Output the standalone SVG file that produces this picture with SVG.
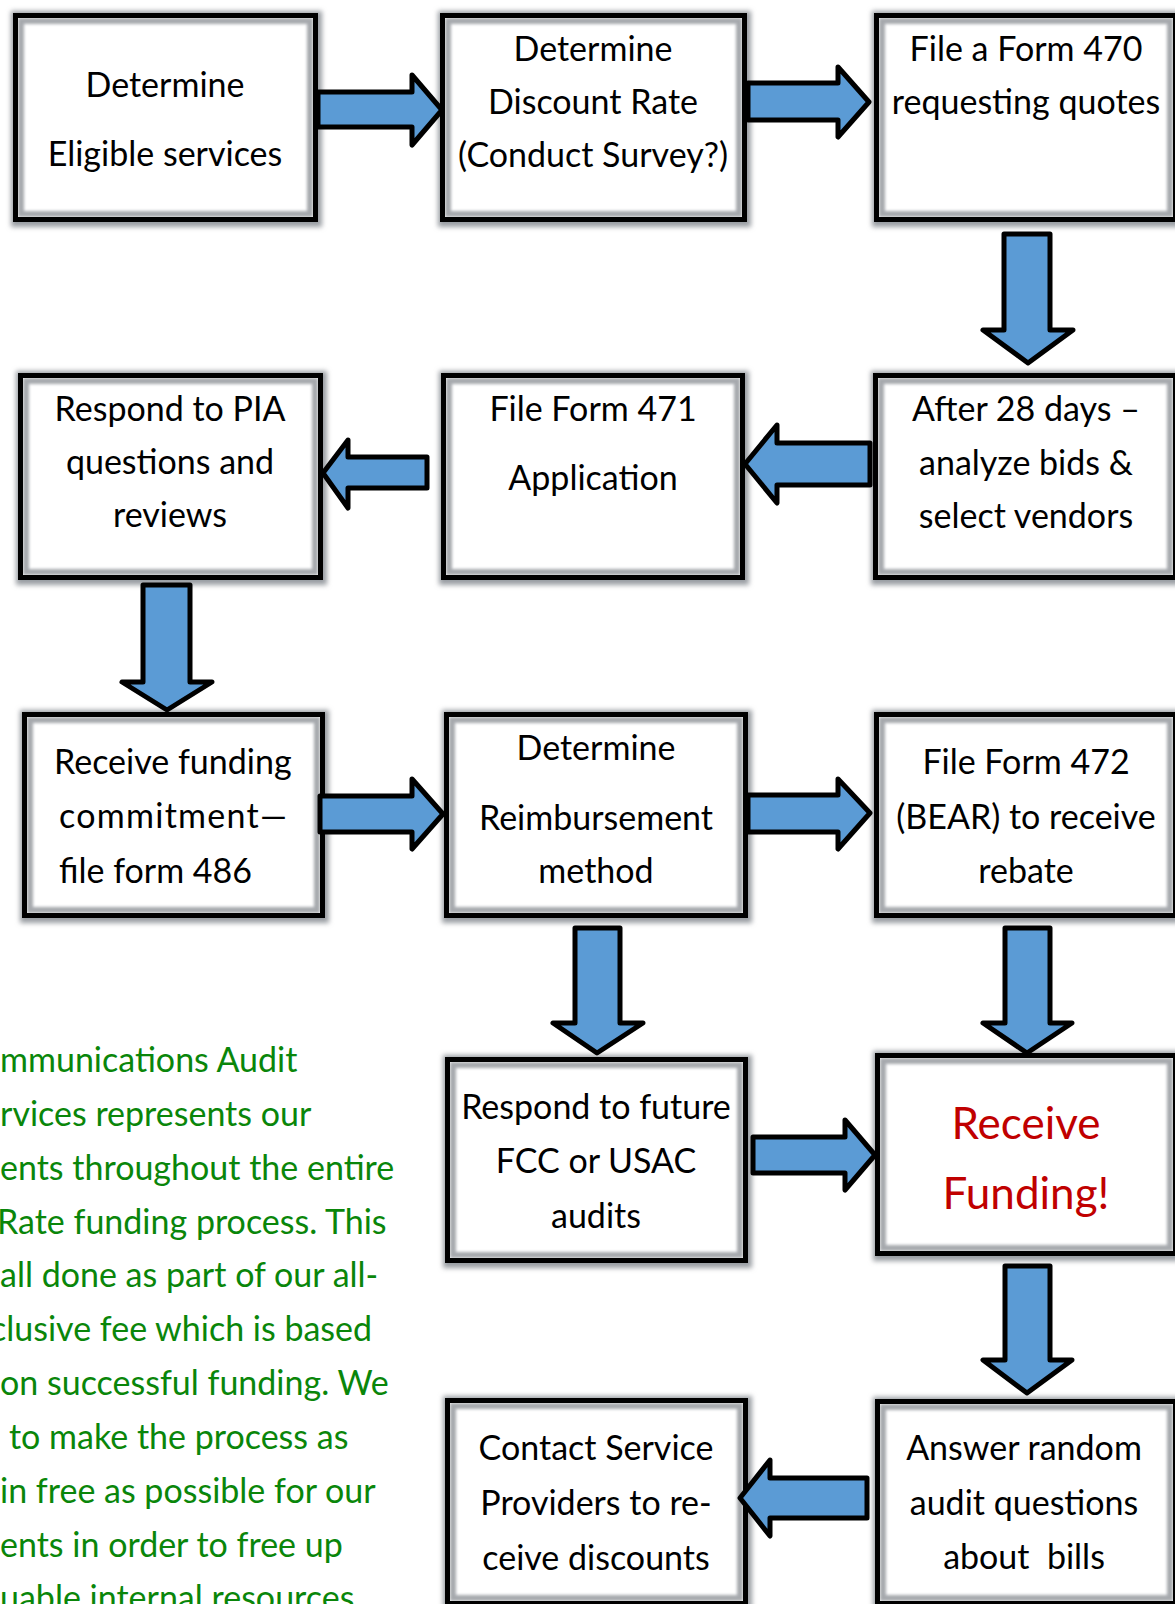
<svg xmlns="http://www.w3.org/2000/svg" width="1175" height="1604" viewBox="0 0 1175 1604">
<defs>
<filter id="blurS" x="-10%" y="-10%" width="120%" height="120%"><feGaussianBlur stdDeviation="2.5"/></filter>
<filter id="blurI" x="-10%" y="-10%" width="120%" height="120%"><feGaussianBlur stdDeviation="1.4"/></filter>
<style>
.sh{fill:#9a9ea3;filter:url(#blurS)}
.bg{fill:#ffffff}
.band{fill:none;stroke:#a6a9ad;stroke-width:6;filter:url(#blurI)}
.bd{fill:none;stroke:#000;stroke-width:5}
.t{font-family:Lato,"Open Sans",sans-serif;font-size:34px;fill:#000;text-anchor:middle}
.ts{text-anchor:start}
.red{fill:#c00000;font-size:44px}
.g{font-family:Lato,"Open Sans",sans-serif;font-size:34px;fill:#0a860a}
.ar{fill:#5b9bd5;stroke:#000;stroke-width:5;stroke-linejoin:round}
</style>
</defs>
<rect width="1175" height="1604" fill="#fff"/>

<g id="n1"><rect class="sh" x="11" y="11" width="311" height="216"/><rect class="bg" x="13" y="13" width="305" height="209"/><rect class="band" x="21" y="21" width="289" height="193"/><rect class="bd" x="15.5" y="15.5" width="300" height="204"/>
<text class="t" x="165" y="97">Determine</text><text class="t" x="165" y="166">Eligible services</text></g>

<g id="n2"><rect class="sh" x="438" y="11" width="313" height="216"/><rect class="bg" x="440" y="13" width="307" height="209"/><rect class="band" x="448" y="21" width="291" height="193"/><rect class="bd" x="442.5" y="15.5" width="302" height="204"/>
<text class="t" x="593" y="61">Determine</text><text class="t" x="593" y="114">Discount Rate</text><text class="t" x="593" y="167">(Conduct Survey?)</text></g>

<g id="n3"><rect class="sh" x="872" y="11" width="310" height="216"/><rect class="bg" x="874" y="13" width="304" height="209"/><rect class="band" x="882" y="21" width="288" height="193"/><rect class="bd" x="876.5" y="15.5" width="299" height="204"/>
<text class="t" x="1026" y="61">File a Form 470</text><text class="t" x="1026" y="114">requesting quotes</text></g>

<g id="n4"><rect class="sh" x="871" y="371" width="311" height="214"/><rect class="bg" x="873" y="373" width="305" height="207"/><rect class="band" x="881" y="381" width="289" height="191"/><rect class="bd" x="875.5" y="375.5" width="300" height="202"/>
<text class="t" x="1026" y="421">After 28 days –</text><text class="t" x="1026" y="475">analyze bids &amp;</text><text class="t" x="1026" y="528">select vendors</text></g>

<g id="n5"><rect class="sh" x="439" y="371" width="310" height="214"/><rect class="bg" x="441" y="373" width="304" height="207"/><rect class="band" x="449" y="381" width="288" height="191"/><rect class="bd" x="443.5" y="375.5" width="299" height="202"/>
<text class="t" x="593" y="421">File Form 471</text><text class="t" x="593" y="490">Application</text></g>

<g id="n6"><rect class="sh" x="16" y="371" width="311" height="214"/><rect class="bg" x="18" y="373" width="305" height="207"/><rect class="band" x="26" y="381" width="289" height="191"/><rect class="bd" x="20.5" y="375.5" width="300" height="202"/>
<text class="t" x="170" y="421">Respond to PIA</text><text class="t" x="170" y="474">questions and</text><text class="t" x="170" y="527">reviews</text></g>

<g id="n7"><rect class="sh" x="20" y="710" width="309" height="213"/><rect class="bg" x="22" y="712" width="303" height="206"/><rect class="band" x="30" y="720" width="287" height="190"/><rect class="bd" x="24.5" y="714.5" width="298" height="201"/>
<text class="t ts" x="54" y="774">Receive funding</text><text class="t ts" x="59" y="828" textLength="228" lengthAdjust="spacing">commitment—</text><text class="t ts" x="59" y="883">file form 486</text></g>

<g id="n8"><rect class="sh" x="442" y="710" width="310" height="213"/><rect class="bg" x="444" y="712" width="304" height="206"/><rect class="band" x="452" y="720" width="288" height="190"/><rect class="bd" x="446.5" y="714.5" width="299" height="201"/>
<text class="t" x="596" y="760">Determine</text><text class="t" x="596" y="830">Reimbursement</text><text class="t" x="596" y="883">method</text></g>

<g id="n9"><rect class="sh" x="872" y="710" width="310" height="213"/><rect class="bg" x="874" y="712" width="304" height="206"/><rect class="band" x="882" y="720" width="288" height="190"/><rect class="bd" x="876.5" y="714.5" width="299" height="201"/>
<text class="t" x="1026" y="774">File Form 472</text><text class="t" x="1026" y="829">(BEAR) to receive</text><text class="t" x="1026" y="883">rebate</text></g>

<g id="n10"><rect class="sh" x="443" y="1055" width="309" height="213"/><rect class="bg" x="445" y="1057" width="303" height="206"/><rect class="band" x="453" y="1065" width="287" height="190"/><rect class="bd" x="447.5" y="1059.5" width="298" height="201"/>
<text class="t" x="596" y="1119">Respond to future</text><text class="t" x="596" y="1173">FCC or USAC</text><text class="t" x="596" y="1228">audits</text></g>

<g id="n11"><rect class="sh" x="873" y="1051" width="309" height="210"/><rect class="bg" x="875" y="1053" width="303" height="203"/><rect class="band" x="883" y="1061" width="287" height="187"/><rect class="bd" x="877.5" y="1055.5" width="298" height="198"/>
<text class="t red" x="1026" y="1139">Receive</text><text class="t red" x="1026" y="1209">Funding!</text></g>

<g id="n12"><rect class="sh" x="873" y="1397" width="309" height="214"/><rect class="bg" x="875" y="1399" width="303" height="207"/><rect class="band" x="883" y="1407" width="287" height="191"/><rect class="bd" x="877.5" y="1401.5" width="298" height="202"/>
<text class="t" x="1024" y="1460">Answer random</text><text class="t" x="1024" y="1515">audit questions</text><text class="t" x="1024" y="1569" style="white-space:pre">about  bills</text></g>

<g id="n13"><rect class="sh" x="443" y="1396" width="309" height="215"/><rect class="bg" x="445" y="1398" width="303" height="208"/><rect class="band" x="453" y="1406" width="287" height="192"/><rect class="bd" x="447.5" y="1400.5" width="298" height="203"/>
<text class="t" x="596" y="1460">Contact Service</text><text class="t" x="596" y="1515">Providers to re-</text><text class="t" x="596" y="1570">ceive discounts</text></g>

<g id="connectors">
<polygon class="ar" points="318,92 412,92 412,75 442,110 412,145 412,127 318,127"/>
<polygon class="ar" points="748,83 838,83 838,67 869,102 838,137 838,120 748,120"/>
<polygon class="ar" points="1004,234 1050,234 1050,330 1073,330 1028,363 983,330 1004,330"/>
<polygon class="ar" points="870,443 777,443 777,425 745,464 777,503 777,485 870,485"/>
<polygon class="ar" points="427,457 348,457 348,440 323,473 348,508 348,488 427,488"/>
<polygon class="ar" points="143,585 190,585 190,682 212,682 167,710 122,682 143,682"/>
<polygon class="ar" points="320,796 412,796 412,779 443,814 412,849 412,832 320,832"/>
<polygon class="ar" points="748,795 838,795 838,779 870,813 838,849 838,832 748,832"/>
<polygon class="ar" points="575,928 620,928 620,1023 643,1023 597,1053 553,1023 575,1023"/>
<polygon class="ar" points="1005,928 1050,928 1050,1023 1072,1023 1027,1053 983,1023 1005,1023"/>
<polygon class="ar" points="753,1137 845,1137 845,1120 875,1155 845,1190 845,1173 753,1173"/>
<polygon class="ar" points="1005,1266 1050,1266 1050,1360 1072,1360 1027,1393 983,1360 1005,1360"/>
<polygon class="ar" points="867,1478 770,1478 770,1460 740,1498 770,1536 770,1518 867,1518"/>
</g>

<g id="note">
<text class="g" x="0" y="1072">mmunications Audit</text>
<text class="g" x="0" y="1126">rvices represents our</text>
<text class="g" x="0" y="1180">ents throughout the entire</text>
<text class="g" x="-3" y="1234">Rate funding process. This</text>
<text class="g" x="0" y="1287">all done as part of our all-</text>
<text class="g" x="-10" y="1341">clusive fee which is based</text>
<text class="g" x="0" y="1395">on successful funding. We</text>
<text class="g" x="9" y="1449">to make the process as</text>
<text class="g" x="0" y="1503">in free as possible for our</text>
<text class="g" x="0" y="1557">ents in order to free up</text>
<text class="g" x="0" y="1610">uable internal resources</text>
</g>
</svg>
